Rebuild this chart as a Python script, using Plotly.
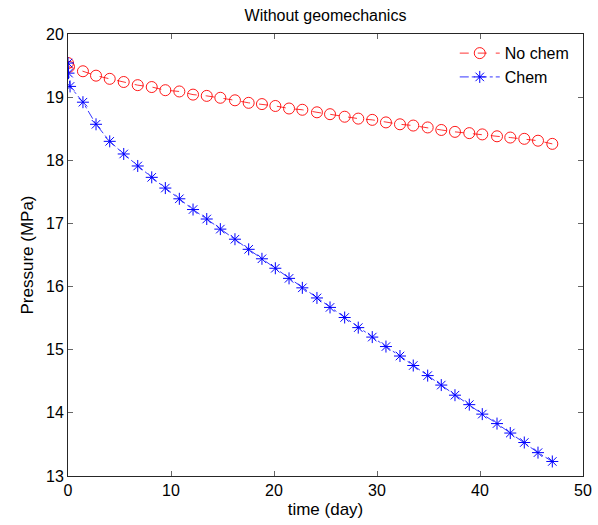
import plotly.graph_objects as go

# time (day) and pressure (MPa) values
t_nochem = [0, 0.1, 1.45, 2.72, 4.05, 5.41, 6.77, 8.13, 9.45, 10.81, 12.14, 13.47, 14.79,
            16.21, 17.54, 18.83, 20.13, 21.46, 22.75, 24.17, 25.44, 26.86, 28.18, 29.54,
            30.87, 32.23, 33.52, 34.92, 36.24, 37.57, 38.96, 40.22, 41.65, 42.94, 44.30,
            45.63, 47.02]
p_nochem = [19.54, 19.48, 19.41, 19.34, 19.29, 19.24, 19.19, 19.16, 19.11, 19.09, 19.04,
            19.02, 18.99, 18.95, 18.91, 18.89, 18.86, 18.82, 18.80, 18.76, 18.73, 18.69,
            18.66, 18.64, 18.60, 18.57, 18.55, 18.52, 18.48, 18.45, 18.43, 18.41, 18.38,
            18.36, 18.34, 18.31, 18.26]

t_chem = [0, 0.05, 0.2, 1.45, 2.72, 4.05, 5.41, 6.77, 8.13, 9.45, 10.81, 12.14, 13.47,
          14.79, 16.21, 17.54, 18.83, 20.13, 21.46, 22.75, 24.17, 25.44, 26.86, 28.18,
          29.54, 30.87, 32.23, 33.52, 34.92, 36.24, 37.57, 38.96, 40.22, 41.65, 42.94,
          44.30, 45.63, 47.02]
p_chem = [19.54, 19.38, 19.17, 18.92, 18.57, 18.30, 18.10, 17.91, 17.73, 17.56, 17.39,
          17.22, 17.07, 16.91, 16.75, 16.59, 16.44, 16.29, 16.13, 15.98, 15.82, 15.67,
          15.51, 15.35, 15.20, 15.05, 14.90, 14.75, 14.59, 14.44, 14.28, 14.13, 13.98,
          13.83, 13.68, 13.53, 13.37, 13.23]

x_ticks = [0, 10, 20, 30, 40, 50]
y_ticks = [13, 14, 15, 16, 17, 18, 19, 20]

font = "Liberation Sans, Arial, sans-serif"

fig = go.Figure()
fig.add_trace(go.Scatter(
    x=t_nochem, y=p_nochem, mode="lines+markers", name="No chem",
    line=dict(color="#ff0000", width=0.8, dash="dash"),
    marker=dict(symbol="circle-open", size=11, color="#ff0000", line=dict(width=0.9)),
))
fig.add_trace(go.Scatter(
    x=t_chem, y=p_chem, mode="lines+markers", name="Chem",
    line=dict(color="#0000ff", width=0.8, dash="dashdot"),
    marker=dict(symbol="asterisk-open", size=10, color="#0000ff", line=dict(width=1, color="#0000ff")),
))

axis_common = dict(
    showline=True, linecolor="#262626", linewidth=1, mirror="ticks",
    ticks="inside", ticklen=5, tickcolor="#666666", tickwidth=1,
    showgrid=False, zeroline=False, automargin=False,
    tickfont=dict(family=font, size=16, color="#000000"),
)

fig.update_layout(
    width=598, height=525,
    margin=dict(l=68, r=15, t=34, b=49, autoexpand=False),
    paper_bgcolor="white", plot_bgcolor="white",
    title=dict(text="Without geomechanics", x=0.5, xanchor="center", xref="paper",
               y=1 - 15 / 525, yanchor="middle",
               font=dict(family=font, size=16, color="#000000")),
    xaxis=dict(range=[0, 50], tickvals=x_ticks,
               title=dict(text="time (day)", font=dict(family=font, size=17, color="#000000"), standoff=4),
               **axis_common),
    yaxis=dict(range=[13, 20], tickvals=y_ticks,
               title=dict(text="Pressure (MPa)", font=dict(family=font, size=17, color="#000000"), standoff=8),
               **axis_common),
    legend=dict(x=0.984, y=0.995, xanchor="right", yanchor="top",
                bgcolor="rgba(255,255,255,0)", borderwidth=0,
                font=dict(family=font, size=16, color="#000000"),
                itemwidth=40, tracegroupgap=0),
    showlegend=True,
)

fig.write_html("out.html")
